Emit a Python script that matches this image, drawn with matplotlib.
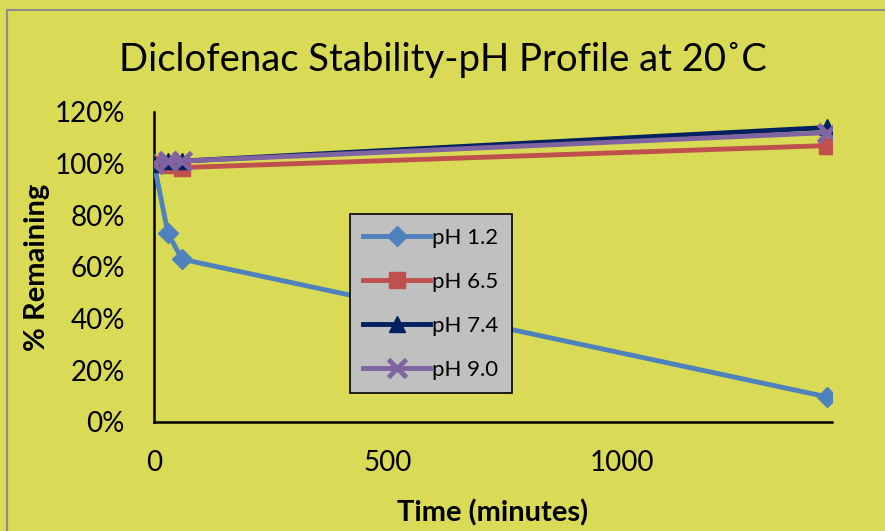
import matplotlib.pyplot as plt
from matplotlib.lines import Line2D
from matplotlib.ticker import FuncFormatter

plt.rcParams['font.family'] = ['Lato', 'DejaVu Sans']

# data
minutes = [0, 30, 60, 1440]
ph12 = [1.00, 0.73, 0.63, 0.097]
ph65 = [1.00, 0.995, 0.985, 1.07]
ph74 = [1.00, 1.01, 1.01, 1.14]
ph90 = [1.00, 1.01, 1.01, 1.12]
labels = ['pH 1.2', 'pH 6.5', 'pH 7.4', 'pH 9.0']

bg = '#D9DA55'
fig = plt.figure(figsize=(8.85, 5.31), dpi=100, facecolor=bg)
ax = fig.add_axes([0.174, 0.2053, 0.766, 0.5838], facecolor=bg)

# outer chart border (only left/top visible in the crop)
fig.add_artist(Line2D([7/885, 7/885], [0, 1-10/531], color='#8C8C8C', lw=1.5))
fig.add_artist(Line2D([7/885, 1], [1-10/531, 1-10/531], color='#8C8C8C', lw=1.5))

ax.plot(minutes, ph12, color='#4F81BD', lw=3.5, marker='D', ms=10, label=labels[0])
ax.plot(minutes, ph65, color='#C0504D', lw=3.5, marker='s', ms=12, label=labels[1])
ax.plot(minutes, ph74, color='#002060', lw=3.5, marker='^', ms=11, label=labels[2])
ax.plot(minutes, ph90, color='#8064A2', lw=3.5, marker='x', ms=13, mew=3.5, label=labels[3])

ax.set_xlim(0, 1450)
ax.set_ylim(0, 1.2)
ax.set_xticks([0, 500, 1000])
ax.set_yticks([0, 0.2, 0.4, 0.6, 0.8, 1.0, 1.2])
ax.yaxis.set_major_formatter(FuncFormatter(lambda v, p: '%d%%' % round(v*100)))
ax.tick_params(length=0, labelsize=20, pad=21)
ax.tick_params(axis='x', pad=20)
for s in ['top', 'right']:
    ax.spines[s].set_visible(False)
for s in ['left', 'bottom']:
    ax.spines[s].set_linewidth(1.8)
ax.spines['left'].set_zorder(0)

ax.set_xlabel('Time (minutes)', fontsize=21, fontweight='bold', labelpad=17)
ax.set_ylabel('% Remaining', fontsize=21, fontweight='bold', labelpad=3)
fig.suptitle('Diclofenac Stability-pH Profile at 20˚C', fontsize=27.5, y=0.92)

leg = ax.legend(loc='lower left', bbox_to_anchor=(0.289, 0.094), fontsize=16,
                facecolor='#C0C0C0', edgecolor='black', framealpha=1, fancybox=False,
                handlelength=3.0, handletextpad=0.1, labelspacing=1.08, borderpad=0.6,
                borderaxespad=0)
leg.get_frame().set_linewidth(1.2)

fig.savefig('out.png', dpi=100, facecolor=bg)
